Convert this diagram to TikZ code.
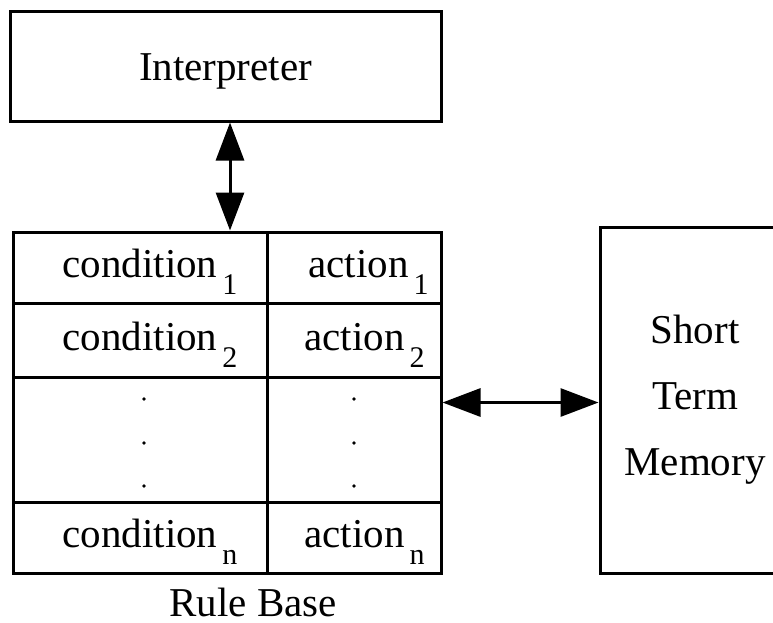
\documentclass[tikz,border=0pt]{standalone}
\usepackage{fontspec}
\setmainfont{Liberation Serif}
\usetikzlibrary{arrows.meta}

\newcommand{\lowidx}[1]{\kern5pt\raisebox{-17pt}{\fontsize{30}{30}\selectfont #1}}

\begin{document}
\begin{tikzpicture}[x=1pt,y=-1pt,line width=3pt,
	box/.style={draw,rectangle,inner sep=0pt},
	cell/.style={anchor=base west,inner sep=0pt},
	>={Triangle[length=38pt,width=28pt]},
	font=\fontsize{41}{66}\selectfont]
	\useasboundingbox (0,0) rectangle (773,622);

	\node[box,minimum width=431pt,minimum height=110pt,text height=28pt,text depth=0pt] (interp) at (225.5,66) {Interpreter};
	\node[box,minimum width=428pt,minimum height=341pt,label={[inner sep=1pt,label distance=11pt,xshift=26pt]below:Rule Base}] (rules) at (227,402.5) {};
	\node[box,minimum width=190pt,minimum height=346pt,align=center] (stm) at (695,400) {Short\\Term\\Memory};

	% table grid
	\draw (267,232) -- (267,573);
	\foreach \y in {303,377,502}
		\draw (13,\y) -- (441,\y);

	\node[cell] (cond1) at (61,277) {condition\lowidx{1}};
	\node[cell] (act1) at (307,277) {action\lowidx{1}};
	\node[cell] (cond2) at (61,350) {condition\lowidx{2}};
	\node[cell] (act2) at (303,350) {action\lowidx{2}};
	\node[cell] (condn) at (61,547) {condition\lowidx{n}};
	\node[cell] (actn) at (303,547) {action\lowidx{n}};

	\foreach \x in {144,354}
		\foreach \y in {399,443,486}
			\fill (\x,\y) circle (1.8pt);

	\draw[<->] ([xshift=4.5pt]interp.south) -- ([xshift=4.5pt]interp.south |- rules.north);
	\draw[<->] (rules.east) -- (rules.east -| stm.west);

\end{tikzpicture}
\end{document}
